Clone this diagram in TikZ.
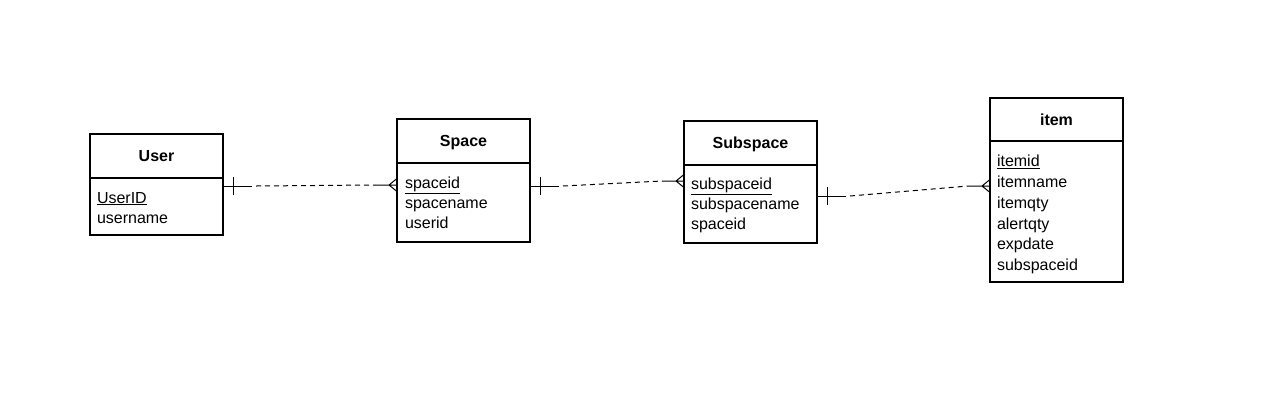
\documentclass[tikz,border=0pt]{standalone}
\usepackage{fontspec}
\setmainfont{Liberation Sans}
\begin{document}
\begin{tikzpicture}[x=1pt,y=-1pt,
  hdr/.style={draw,line width=1.2pt,fill=white,inner sep=0pt,outer sep=0pt,
    minimum width=133pt,minimum height=44pt,anchor=north west,
    font=\fontsize{16}{20}\selectfont\bfseries,text height=11.5pt,text depth=0pt},
  bodybox/.style={draw,line width=1.2pt,fill=white,inner sep=0pt,outer sep=0pt,
    minimum width=133pt,anchor=north west},
  attr/.style={inner sep=0pt,outer sep=0pt,anchor=base west,font=\fontsize{16}{20}\selectfont},
  rel/.style={line width=1pt,black},
  reldash/.style={line width=1pt,black,dash pattern=on 5pt off 4pt}]
\useasboundingbox (0,0) rectangle (1285,400);
\newcommand\erlink[2]{%
  \draw[rel] (#1) -- ([xshift=29pt]#1);
  \draw[rel] ([xshift=10pt,yshift=9pt]#1) -- ([xshift=10pt,yshift=-9pt]#1);
  \draw[reldash] ([xshift=33pt]#1) -- ([xshift=-22pt]#2);
  \draw[rel] ([xshift=-22pt]#2) -- ([xshift=-8pt]#2) -- ([yshift=6.5pt]#2)
    ([xshift=-8pt]#2) -- ([yshift=-6.5pt]#2) ([xshift=-8pt]#2) -- (#2);
}
% User
\node[hdr] (userh) at (90,134) {User};
\node[bodybox,minimum height=57pt] (userb) at (userh.south west) {};
\node[attr] (u1) at ([xshift=7pt,yshift=-25pt]userb.north west) {\underline{UserID}};
\node[attr] (u2) at ([yshift=-20pt]u1.base west) {username};
% Space
\node[hdr] (spaceh) at (397,119) {Space};
\node[bodybox,minimum height=79pt] (spaceb) at (spaceh.south west) {};
\node[attr] (s1) at ([xshift=8pt,yshift=-25.7pt]spaceb.north west) {\underline{spaceid}};
\node[attr] (s2) at ([yshift=-20pt]s1.base west) {spacename};
\node[attr] (s3) at ([yshift=-20pt]s2.base west) {userid};
% Subspace
\node[hdr] (subh) at (684,121) {Subspace};
\node[bodybox,minimum height=78pt] (subb) at (subh.south west) {};
\node[attr] (b1) at ([xshift=7pt,yshift=-24.5pt]subb.north west) {\underline{subspaceid}};
\node[attr] (b2) at ([yshift=-20pt]b1.base west) {subspacename};
\node[attr] (b3) at ([yshift=-20pt]b2.base west) {spaceid};
% item
\node[hdr,minimum height=43pt] (itemh) at (990,98) {item};
\node[bodybox,minimum height=141pt] (itemb) at (itemh.south west) {};
\node[attr] (i1) at ([xshift=7pt,yshift=-25.7pt]itemb.north west) {\underline{itemid}};
\node[attr] (i2) at ([yshift=-20.8pt]i1.base west) {itemname};
\node[attr] (i3) at ([yshift=-20.8pt]i2.base west) {itemqty};
\node[attr] (i4) at ([yshift=-20.8pt]i3.base west) {alertqty};
\node[attr] (i5) at ([yshift=-20.8pt]i4.base west) {expdate};
\node[attr] (i6) at ([yshift=-20.8pt]i5.base west) {subspaceid};
% connector end points
\coordinate (r1s) at (userb.east |- 0,186);
\coordinate (r1e) at (spaceb.west |- 0,185);
\coordinate (r2s) at (spaceb.east |- 0,186);
\coordinate (r2e) at (subb.west |- 0,181);
\coordinate (r3s) at (subb.east |- 0,196);
\coordinate (r3e) at (itemb.west |- 0,186);
\erlink{r1s}{r1e}
\erlink{r2s}{r2e}
\erlink{r3s}{r3e}
\end{tikzpicture}
\end{document}
